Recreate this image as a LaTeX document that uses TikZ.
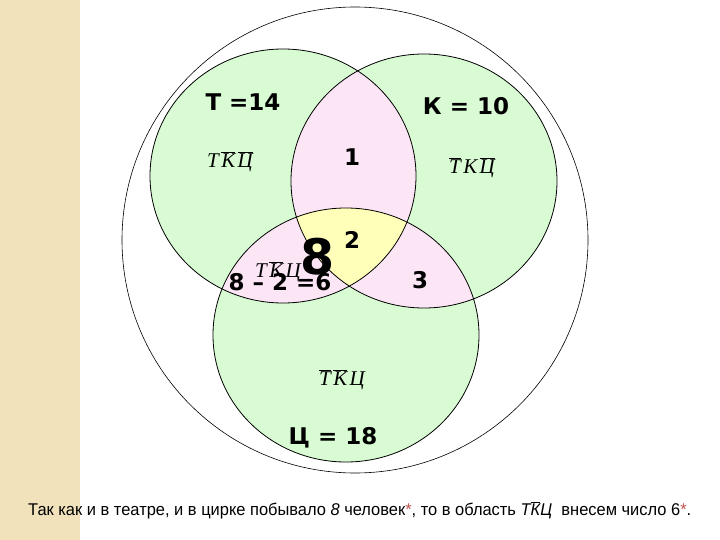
\documentclass[tikz,border=0pt]{standalone}
\usepackage{fontspec}
\usepackage{graphicx}
\setmainfont{Liberation Sans}
\newfontfamily\lblfont{DejaVu Sans}
\newfontfamily\serfont{Liberation Serif}
\newcommand{\obar}[1]{\ensuremath{\overline{\mbox{#1}}}}
\newcommand{\lsp}{\hspace{2.5pt}}
\definecolor{vgreen}{RGB}{216,251,211}
\definecolor{vpink}{RGB}{252,229,245}
\definecolor{vyellow}{RGB}{255,255,186}
\definecolor{beige}{RGB}{241,226,188}
\definecolor{astred}{RGB}{192,80,77}
\begin{document}
\begin{tikzpicture}[x=1pt,y=-1pt,
  numlbl/.style={font=\lblfont\bfseries\fontsize{23}{23}\selectfont, inner sep=0},
  biglbl/.style={font=\lblfont\bfseries\fontsize{49}{49}\selectfont, inner sep=0},
  setlbl/.style={font=\serfont\itshape\fontsize{21}{21}\selectfont, inner sep=0},
  setline/.style={draw=black, line width=0.8pt},
  eT/.style={x radius=133pt, y radius=127pt}]
\useasboundingbox (0,0) rectangle (720,540);
\fill[white] (0,0) rectangle (720,540);
\fill[beige] (0,0) rectangle (80,540);

\coordinate (cO) at (355,240);
\coordinate (cT) at (283,176);
\coordinate (cK) at (424,181);
\coordinate (cC) at (346,335);

% fills
\fill[vgreen] (cT) ellipse [eT];
\fill[vgreen] (cK) ellipse [eT];
\fill[vgreen] (cC) ellipse [eT];
\begin{scope}
  \clip (cT) ellipse [eT];
  \fill[vpink] (cK) ellipse [eT];
  \fill[vpink] (cC) ellipse [eT];
\end{scope}
\begin{scope}
  \clip (cK) ellipse [eT];
  \fill[vpink] (cC) ellipse [eT];
\end{scope}
\begin{scope}
  \clip (cT) ellipse [eT];
  \clip (cK) ellipse [eT];
  \fill[vyellow] (cC) ellipse [eT];
\end{scope}

% outlines
\draw[setline] (cT) ellipse [eT];
\draw[setline] (cK) ellipse [eT];
\draw[setline] (cC) ellipse [eT];
\draw[black, line width=0.6pt] (cO) circle [radius=233pt];

% set descriptions
\node[setlbl] (dT) at (230,162) {Т\lsp\obar{К}\lsp\obar{Ц}};
\node[setlbl] (dK) at (472,168) {\obar{Т}\lsp К\lsp\obar{Ц}};
\node[setlbl] (dTC) at (278,272) {Т\lsp\obar{К}\lsp Ц};
\node[setlbl] (dC) at (342,380) {\obar{Т}\lsp\obar{К}\lsp Ц};

% numbers
\node[numlbl] (nT) at (243,102) {Т =14};
\node[numlbl] (nK) at (466,106) {К = 10};
\node[numlbl] (n1) at (352,157) {1};
\node[numlbl] (n2) at (352,240) {2};
\node[numlbl] (n3) at (420,280) {3};
\node[numlbl] (n6) at (280,282) {8 – 2 =6};
\node[numlbl] (nC) at (333,438) {Ц = 18};
\node[biglbl] (n8) at (318,257) {8};

% note
\node[anchor=base west, inner sep=0, font=\fontsize{17}{17}\selectfont] (note) at (28,515)
  {\resizebox{663pt}{\height}{Так как и в театре, и в цирке побывало \textit{8} человек\textcolor{astred}{*}, то в область \textit{Т\obar{К}Ц}\ \ внесем число 6\textcolor{astred}{*}.}};
\end{tikzpicture}
\end{document}
